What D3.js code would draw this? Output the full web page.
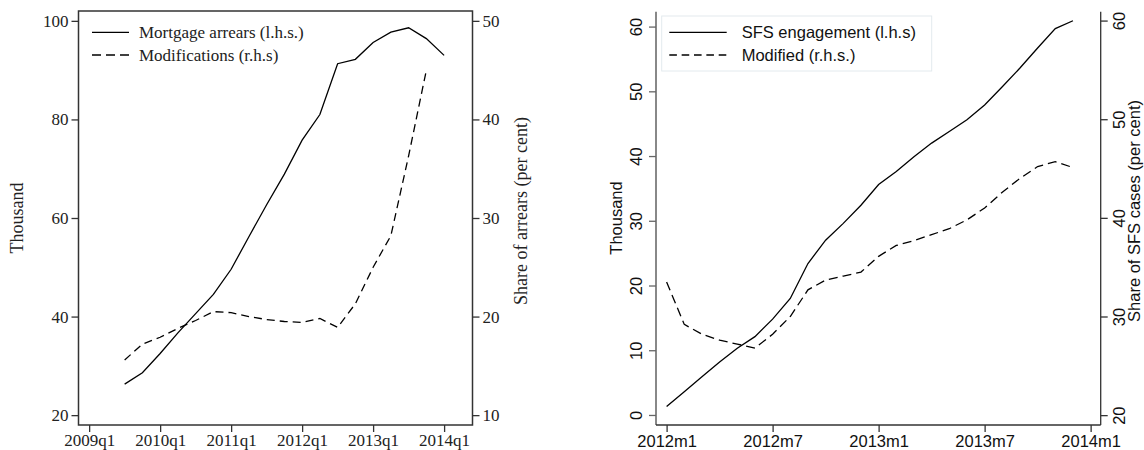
<!DOCTYPE html>
<html>
<head>
<meta charset="utf-8">
<script src="https://cdn.jsdelivr.net/npm/d3@7"></script>
<style>
  body { margin: 0; background: #fff; }
  svg  { display: block; }
</style>
</head>
<body>
<svg id="chart" width="1144" height="450"></svg>
<script>
/* ── Data ─────────────────────────────────────────────────────────────── */

// Left panel: mortgage arrears (thousand, l.h.s.) and modifications (share, r.h.s.)
const arrearsQuarters = ['2009q3','2009q4','2010q1','2010q2','2010q3','2010q4',
  '2011q1','2011q2','2011q3','2011q4','2012q1','2012q2','2012q3','2012q4',
  '2013q1','2013q2','2013q3','2013q4','2014q1'];
const arrearsThousand = [26.3, 28.6, 32.5, 36.7, 40.6, 44.5, 49.6, 56.2, 62.7, 68.9,
  75.8, 81.0, 91.3, 92.2, 95.6, 97.7, 98.6, 96.4, 93.0];
const modificationsShare = [15.6, 17.2, 17.9, 18.8, 19.6, 20.5, 20.4, 20.0, 19.7, 19.5,
  19.4, 19.8, 18.9, 21.3, 25.0, 28.2, 36.3, 45.0];           // ends 2013q4
const quarterTicks = ['2009q1','2010q1','2011q1','2012q1','2013q1','2014q1'];
const arrearsLeftTicks  = [20, 40, 60, 80, 100];
const arrearsRightTicks = [10, 20, 30, 40, 50];

// Right panel: SFS engagement (thousand, l.h.s.) and modified (share, r.h.s.)
const sfsMonths = ['2012m1','2012m2','2012m3','2012m4','2012m5','2012m6','2012m7',
  '2012m8','2012m9','2012m10','2012m11','2012m12','2013m1','2013m2','2013m3',
  '2013m4','2013m5','2013m6','2013m7','2013m8','2013m9','2013m10','2013m11','2013m12'];
const sfsEngagement = [1.3, 3.6, 5.9, 8.2, 10.3, 12.1, 14.8, 18.0, 23.4, 27.0, 29.6, 32.4,
  35.6, 37.6, 39.9, 42.0, 43.8, 45.6, 47.9, 50.7, 53.6, 56.7, 59.7, 60.9];
const sfsModifiedShare = [33.5, 29.2, 28.2, 27.6, 27.2, 26.8, 28.2, 30.0, 32.7, 33.7, 34.1,
  34.5, 36.1, 37.2, 37.7, 38.3, 38.9, 39.8, 41.0, 42.6, 44.0, 45.2, 45.7, 45.1];
const monthTicks = ['2012m1','2012m7','2013m1','2013m7','2014m1'];
const sfsLeftTicks  = [0, 10, 20, 30, 40, 50, 60];
const sfsRightTicks = [20, 30, 40, 50, 60];

/* ── Helpers ──────────────────────────────────────────────────────────── */

// period label -> integer index from the first tick
const qIndex = s => { const [y, q] = s.split('q').map(Number); return (y - 2009) * 4 + q - 1; };
const mIndex = s => { const [y, m] = s.split('m').map(Number); return (y - 2012) * 12 + m - 1; };

const SERIF = 'Liberation Serif, Times New Roman, serif';
const SANS  = 'Liberation Sans, Arial, sans-serif';

const svg = d3.select('#chart');

function styleAxis(g, family, size, color, stroke) {
  g.attr('font-family', family).attr('font-size', size);
  g.selectAll('text').attr('fill', color);
  g.selectAll('line').attr('stroke', stroke).attr('stroke-width', 1.3);
  g.select('.domain').remove();
}

/* ── Left panel ───────────────────────────────────────────────────────── */
{
  const P = { left: 78.5, right: 472.5, top: 11, bottom: 425 };
  const x  = d3.scaleLinear().domain([-0.6, 21.6]).range([P.left, P.right]);
  const yL = d3.scaleLinear().domain([18, 102]).range([P.bottom, P.top]);
  const yR = d3.scaleLinear().domain([9, 51]).range([P.bottom, P.top]);
  const ink = '#222';

  svg.append('rect')
    .attr('x', P.left).attr('y', P.top)
    .attr('width', P.right - P.left).attr('height', P.bottom - P.top)
    .attr('fill', 'none').attr('stroke', '#333').attr('stroke-width', 1.5);

  svg.append('g').attr('transform', `translate(${P.left},0)`)
    .call(d3.axisLeft(yL).tickValues(arrearsLeftTicks).tickSize(7).tickPadding(3).tickSizeOuter(0))
    .call(g => styleAxis(g, SERIF, 17, ink, '#333'));

  svg.append('g').attr('transform', `translate(${P.right},0)`)
    .call(d3.axisRight(yR).tickValues(arrearsRightTicks).tickSize(7).tickPadding(3).tickSizeOuter(0))
    .call(g => styleAxis(g, SERIF, 17, ink, '#333'));

  svg.append('g').attr('transform', `translate(0,${P.bottom})`)
    .call(d3.axisBottom(x).tickValues(quarterTicks.map(qIndex))
      .tickFormat((d, i) => quarterTicks[i]).tickSize(7).tickSizeOuter(0))
    .call(g => styleAxis(g, SERIF, 17, ink, '#333'))
    .call(g => g.selectAll('text').attr('y', 20.5).attr('dy', 0));

  const solid = d3.line().x(d => x(qIndex(d[0]))).y(d => yL(d[1]));
  const dashed = d3.line().x(d => x(qIndex(d[0]))).y(d => yR(d[1]));

  svg.append('path')
    .datum(d3.zip(arrearsQuarters, arrearsThousand))
    .attr('d', solid).attr('fill', 'none')
    .attr('stroke', '#000').attr('stroke-width', 1.3);

  svg.append('path')
    .datum(d3.zip(arrearsQuarters.slice(0, modificationsShare.length), modificationsShare))
    .attr('d', dashed).attr('fill', 'none')
    .attr('stroke', '#000').attr('stroke-width', 1.3)
    .attr('stroke-dasharray', '8,5');

  // axis titles
  svg.append('text')
    .attr('transform', 'translate(23,218) rotate(-90)')
    .attr('text-anchor', 'middle')
    .attr('font-family', SERIF).attr('font-size', 18).attr('fill', ink)
    .text('Thousand');
  svg.append('text')
    .attr('transform', 'translate(527,211) rotate(-90)')
    .attr('text-anchor', 'middle')
    .attr('font-family', SERIF).attr('font-size', 18).attr('fill', ink)
    .text('Share of arrears (per cent)');

  // legend
  const legend = [
    { label: 'Mortgage arrears (l.h.s.)', dash: null },
    { label: 'Modifications (r.h.s)',     dash: '9,5' }
  ];
  const lg = svg.append('g').selectAll('g').data(legend).join('g')
    .attr('transform', (d, i) => `translate(92,${32.3 + i * 22.7})`);
  lg.append('line').attr('x1', 0).attr('x2', 37)
    .attr('stroke', '#000').attr('stroke-width', 1.3)
    .attr('stroke-dasharray', d => d.dash);
  lg.append('text').attr('x', 47).attr('dy', '0.35em')
    .attr('font-family', SERIF).attr('font-size', 17).attr('fill', ink)
    .text(d => d.label);
}

/* ── Right panel ──────────────────────────────────────────────────────── */
{
  const P = { left: 656, right: 1100.7, top: 11.7, bottom: 425 };
  const x  = d3.scaleLinear().domain([-0.6, 24.57]).range([P.left, P.right]);
  const yL = d3.scaleLinear().domain([-1.55, 62.3]).range([P.bottom, P.top]);
  const yR = d3.scaleLinear().domain([19, 60.9]).range([P.bottom, P.top]);
  const ink = '#111';

  // axis lines (no top border)
  svg.append('line')
    .attr('x1', P.left).attr('x2', P.left).attr('y1', P.top).attr('y2', P.bottom)
    .attr('stroke', '#888').attr('stroke-width', 2);
  svg.append('line')
    .attr('x1', P.right).attr('x2', P.right).attr('y1', P.top).attr('y2', P.bottom)
    .attr('stroke', '#333').attr('stroke-width', 1.3);
  svg.append('line')
    .attr('x1', P.left).attr('x2', P.right).attr('y1', P.bottom).attr('y2', P.bottom)
    .attr('stroke', '#333').attr('stroke-width', 1.3);

  svg.append('g').attr('transform', `translate(${P.left},0)`)
    .call(d3.axisLeft(yL).tickValues(sfsLeftTicks).tickSize(7).tickSizeOuter(0))
    .call(g => styleAxis(g, SANS, 16.5, ink, '#666'))
    .call(g => g.selectAll('text')
      .attr('x', null).attr('dy', null)
      .attr('text-anchor', 'middle')
      .attr('transform', 'translate(-14.3,0) rotate(-90)'));

  svg.append('g').attr('transform', `translate(${P.right},0)`)
    .call(d3.axisRight(yR).tickValues(sfsRightTicks).tickSize(7).tickSizeOuter(0))
    .call(g => styleAxis(g, SANS, 16.5, ink, '#333'))
    .call(g => g.selectAll('text')
      .attr('x', null).attr('dy', null)
      .attr('text-anchor', 'middle')
      .attr('transform', 'translate(24.3,0) rotate(-90)'));

  svg.append('g').attr('transform', `translate(0,${P.bottom})`)
    .call(d3.axisBottom(x).tickValues(monthTicks.map(mIndex))
      .tickFormat((d, i) => monthTicks[i]).tickSize(7).tickSizeOuter(0))
    .call(g => styleAxis(g, SANS, 16.5, ink, '#333'))
    .call(g => g.selectAll('text').attr('y', 22).attr('dy', 0));

  const solid = d3.line().x(d => x(mIndex(d[0]))).y(d => yL(d[1]));
  const dashed = d3.line().x(d => x(mIndex(d[0]))).y(d => yR(d[1]));

  svg.append('path')
    .datum(d3.zip(sfsMonths, sfsEngagement))
    .attr('d', solid).attr('fill', 'none')
    .attr('stroke', '#000').attr('stroke-width', 1.3);

  svg.append('path')
    .datum(d3.zip(sfsMonths, sfsModifiedShare))
    .attr('d', dashed).attr('fill', 'none')
    .attr('stroke', '#000').attr('stroke-width', 1.3)
    .attr('stroke-dasharray', '9,5');

  // axis titles
  svg.append('text')
    .attr('transform', 'translate(621.7,218) rotate(-90)')
    .attr('text-anchor', 'middle')
    .attr('font-family', SANS).attr('font-size', 16.5).attr('fill', ink)
    .text('Thousand');
  svg.append('text')
    .attr('transform', 'translate(1139.5,211) rotate(-90)')
    .attr('text-anchor', 'middle')
    .attr('font-family', SANS).attr('font-size', 16.5).attr('fill', ink)
    .text('Share of SFS cases (per cent)');

  // legend box
  svg.append('rect')
    .attr('x', 661.7).attr('y', 16).attr('width', 270).attr('height', 55)
    .attr('fill', '#fff').attr('stroke', '#e3eaee').attr('stroke-width', 1);

  const legend = [
    { label: 'SFS engagement (l.h.s)', dash: null },
    { label: 'Modified (r.h.s.)',      dash: '7.6,4.75' }
  ];
  const lg = svg.append('g').selectAll('g').data(legend).join('g')
    .attr('transform', (d, i) => `translate(669.3,${32.3 + i * 22.7})`);
  lg.append('line').attr('x1', 0).attr('x2', 57.4)
    .attr('stroke', '#000').attr('stroke-width', 1.3)
    .attr('stroke-dasharray', d => d.dash);
  lg.append('text').attr('x', 72.4).attr('dy', '0.35em')
    .attr('font-family', SANS).attr('font-size', 16.5).attr('fill', ink)
    .text(d => d.label);
}
</script>
</body>
</html>
